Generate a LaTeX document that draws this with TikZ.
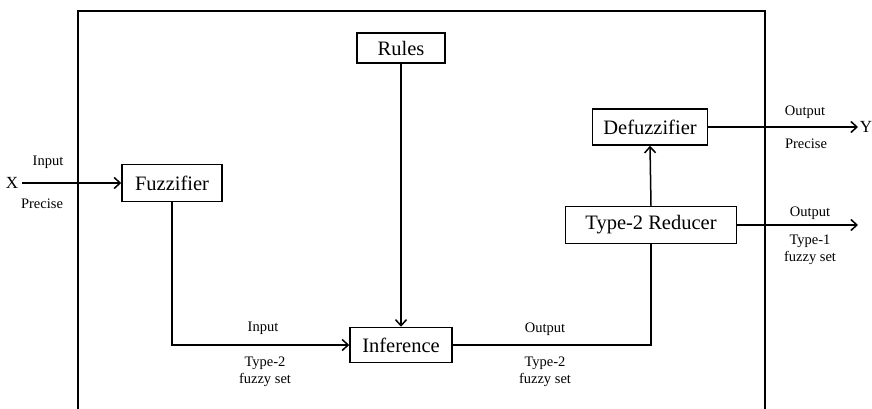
\documentclass[tikz,border=0pt]{standalone}
\usepackage{fontspec}
\setmainfont{Liberation Serif}
\usetikzlibrary{arrows.meta}
\begin{document}
\begin{tikzpicture}[x=1pt,y=-1pt,
  blk/.style={draw,line width=1.5pt,font=\fontsize{20.5}{22}\selectfont,inner sep=0pt,anchor=center},
  lbl/.style={font=\fontsize{14.5}{16.5}\selectfont,align=center,inner sep=0pt},
  conn/.style={line width=1.5pt},
  arr/.style={line width=1.5pt,-{Straight Barb[length=6pt,width=11pt,line width=1.5pt]}}]
\useasboundingbox (0,0) rectangle (872,409);
\draw[line width=1.6pt] (78,409) -- (78,11) -- (765,11) -- (765,409);
% blocks
\node[blk,minimum width=100pt,minimum height=37pt] (fuz) at (172,183) {Fuzzifier};
\node[blk,minimum width=88pt,minimum height=30pt] (rules) at (401,48) {Rules};
\node[blk,minimum width=115pt,minimum height=36pt] (defuz) at (650,127) {Defuzzifier};
\node[blk,minimum width=171pt,minimum height=37pt] (red) at (651,225) {Type-2 Reducer};
\node[blk,minimum width=102pt,minimum height=35pt] (inf) at (401,345) {Inference};
% input X
\node[font=\fontsize{17}{19}\selectfont,inner sep=0pt] (X) at (12,183) {X};
\draw[arr] (X.east) ++(4,0) coordinate (xs) (xs) -- (fuz.west);
\node[lbl] (lin) at (48,162) {Input};
\node[lbl] (lpr) at (42,204) {Precise};
% fuzzifier -> inference
\draw[arr] (fuz.south) |- (inf.west);
\node[lbl] (l2) at (263,328) {Input};
\node[lbl] (l3) at (265,372) {Type-2\\fuzzy set};
% rules -> inference
\draw[arr] (rules.south) -- (inf.north);
% inference -> reducer
\draw[conn] (inf.east) -| (red.south);
\node[lbl] (l4) at (545,329) {Output};
\node[lbl] (l5) at (545,372) {Type-2\\fuzzy set};
% reducer -> defuzzifier
\draw[arr] (red.north) -- (defuz.south);
% defuzzifier -> Y
\node[font=\fontsize{17}{19}\selectfont,inner sep=0pt] (Y) at (866,127) {Y};
\coordinate (ye) at (858,127);
\draw[arr] (defuz.east) -- (ye);
\node[lbl] (l6) at (805,112) {Output};
\node[lbl] (l7) at (806,144) {Precise};
% reducer -> output
\coordinate (oe) at (858,225);
\draw[arr] (red.east) -- (oe);
\node[lbl] (l8) at (810,213) {Output};
\node[lbl] (l9) at (810,250) {Type-1\\fuzzy set};
\end{tikzpicture}
\end{document}
